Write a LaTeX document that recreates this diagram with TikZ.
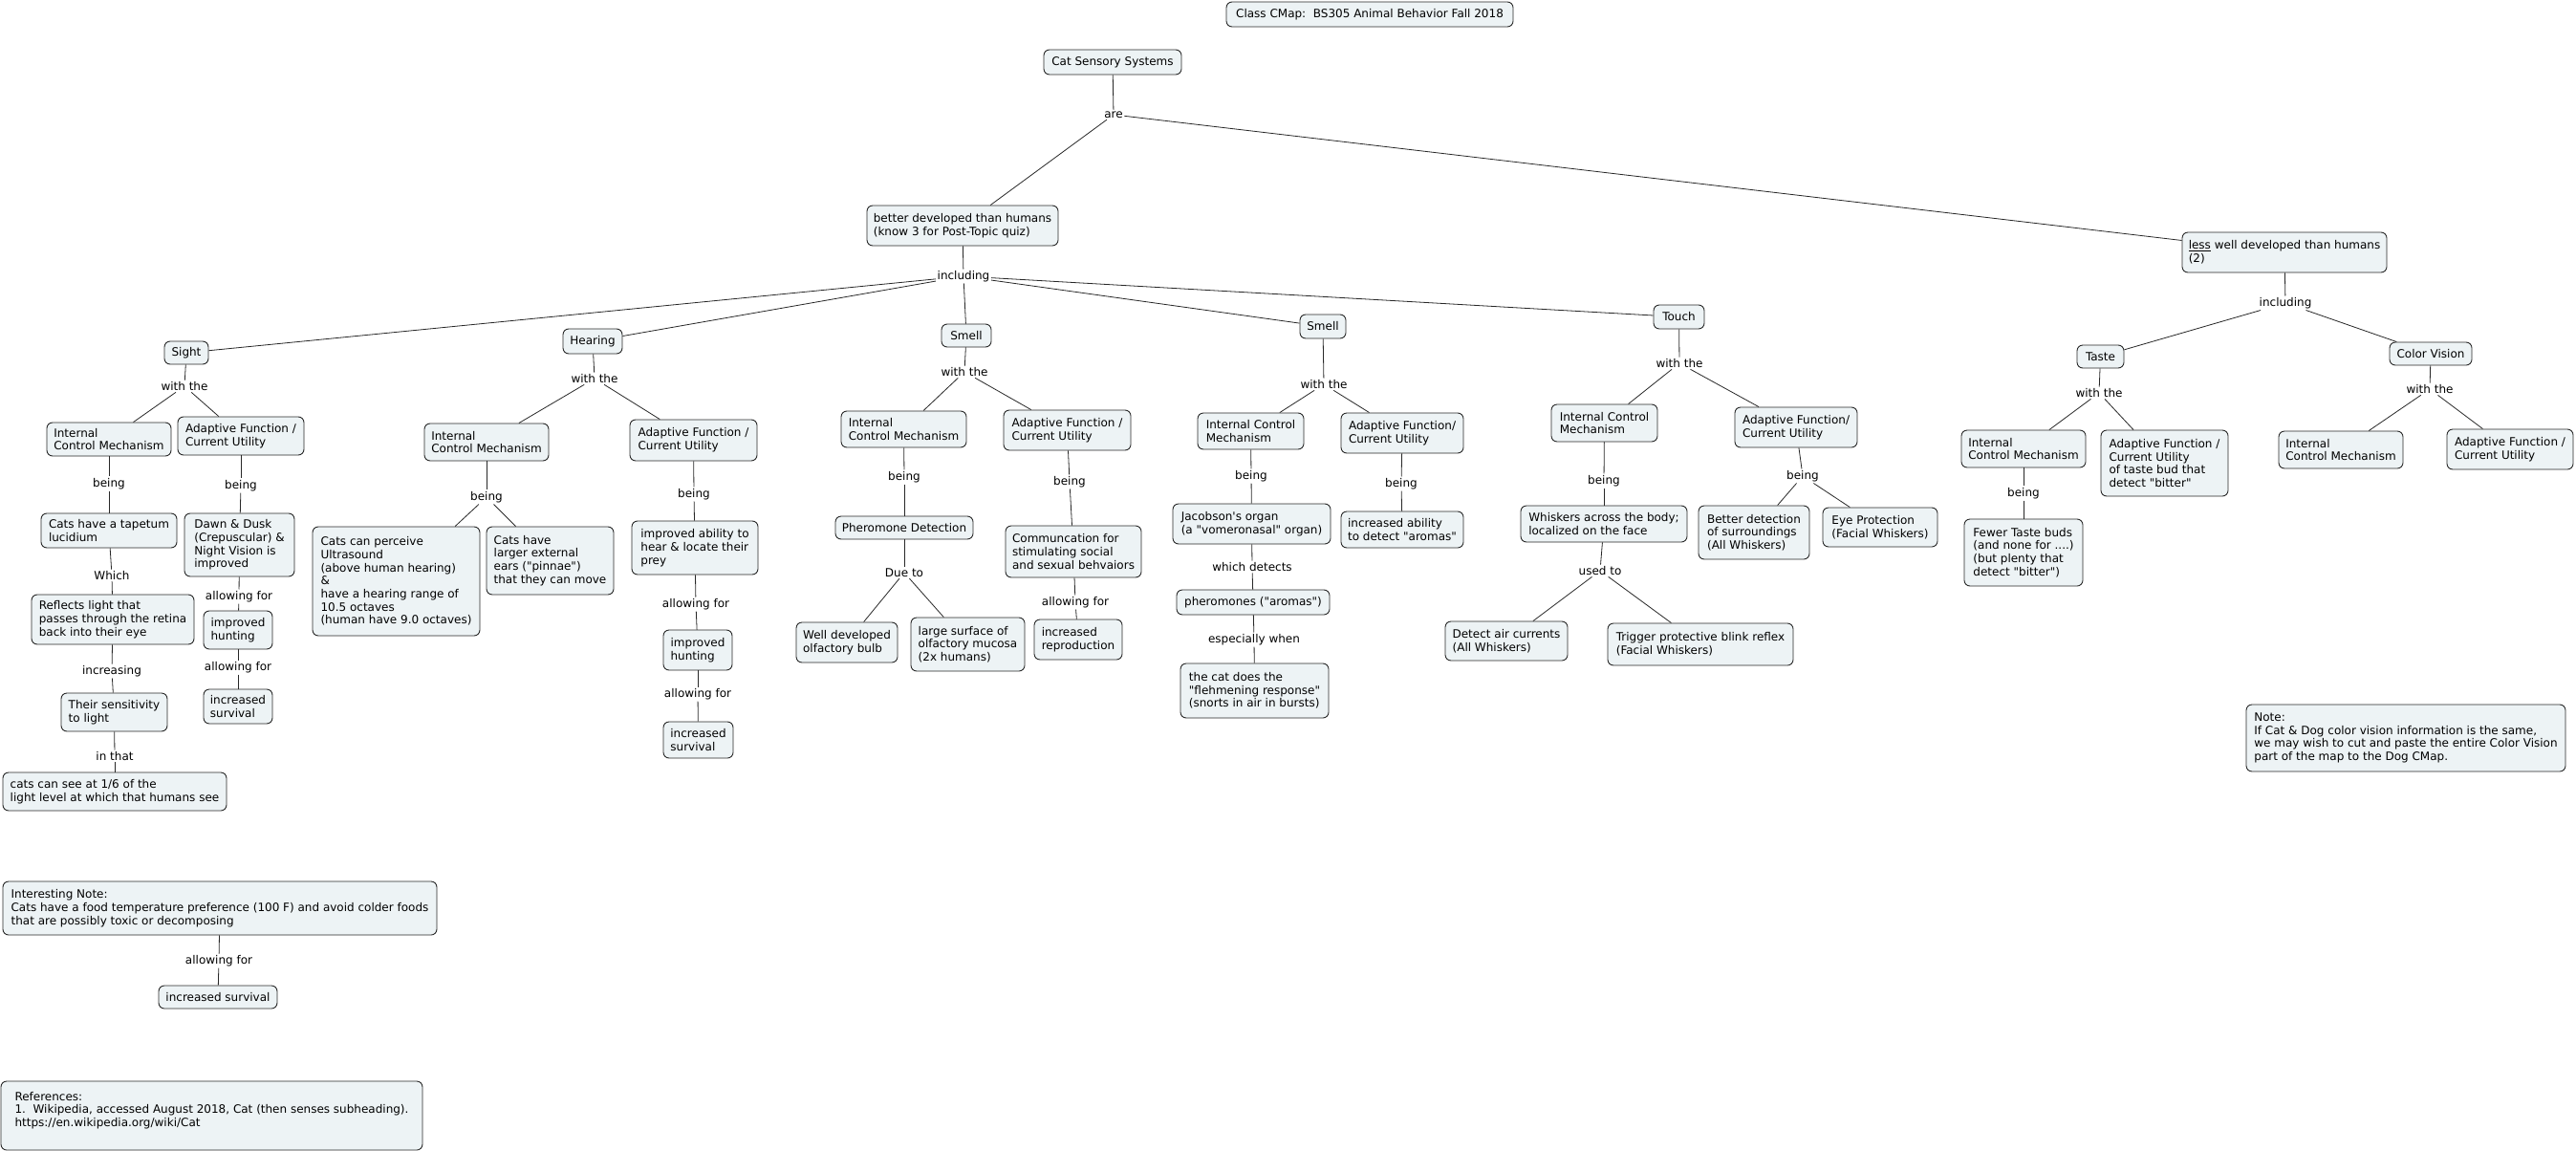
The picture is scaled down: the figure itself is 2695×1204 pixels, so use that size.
\documentclass[tikz,border=0pt]{standalone}
\usepackage{fontspec}
\newfontfamily\mainf{DejaVu Sans}
\definecolor{cfill}{RGB}{237,243,245}
\definecolor{cline}{RGB}{40,40,40}
\tikzset{
 concept/.style={draw=cline, line width=0.9pt, fill=cfill, rounded corners=6pt, align=left, inner xsep=5pt, inner ysep=3pt, font=\mainf\fontsize{12}{13.7}\selectfont},
 link/.style={inner sep=1.5pt, font=\mainf\fontsize{12}{13.7}\selectfont},
 conn/.style={draw=cline, line width=0.8pt}
}
\newcommand\cmapnode[6]{\node[concept, minimum width=#4pt, minimum height=#5pt] (#1) at (#2,#3) {#6};}
\newcommand\cmaplink[4]{\node[link] (#1) at (#2,#3) {#4};}
\begin{document}
\begin{tikzpicture}[x=1pt,y=-1pt]
\fill[white] (0,0) rectangle (2695,1204);
\useasboundingbox (0,0) rectangle (2695,1204);
% ---------- concepts ----------
\cmapnode{title}{1433}{15}{300}{26}{Class CMap:\ \ BS305 Animal Behavior Fall 2018}
\cmapnode{css}{1164}{65}{144}{26}{Cat Sensory Systems}
\cmapnode{better}{1007}{236}{200}{42}{better developed than humans\\(know 3 for Post-Topic quiz)}
\cmapnode{less}{2390}{264}{214}{42}{\underline{less} well developed than humans\\(2)}
% Sight
\cmapnode{sight}{195}{369}{46}{24}{Sight}
\cmapnode{sicm}{114}{459.5}{130}{35}{Internal\\Control Mechanism}
\cmapnode{saf}{252}{456}{132}{40}{Adaptive Function /\\Current Utility}
\cmapnode{tapetum}{114}{555}{142}{36}{Cats have a tapetum\\lucidium}
\cmapnode{dawn}{250.5}{570}{115}{66}{Dawn \& Dusk\\(Crepuscular) \&\\Night Vision is\\improved}
\cmapnode{reflects}{118}{648}{170}{52}{Reflects light that\\passes through the retina\\back into their eye}
\cmapnode{sihunt}{249}{659}{72}{40}{improved\\hunting}
\cmapnode{sisurv}{249}{739}{72}{36}{increased\\survival}
\cmapnode{sensit}{119.5}{745}{111}{40}{Their sensitivity\\to light}
\cmapnode{cansee}{120}{828}{234}{40}{cats can see at 1/6 of the\\light level at which that humans see}
% Hearing
\cmapnode{hearing}{620}{357}{62}{26}{Hearing}
\cmapnode{hicm}{509}{462.5}{130}{39}{Internal\\Control Mechanism}
\cmapnode{haf}{725.5}{460.5}{133}{43}{Adaptive Function /\\Current Utility}
\cmapnode{ultra}{414.5}{608}{175}{114}{Cats can perceive\\Ultrasound\\(above human hearing)\\\&\\have a hearing range of\\10.5 octaves\\(human have 9.0 octaves)}
\cmapnode{pinnae}{575.5}{586.5}{133}{71}{Cats have\\larger external\\ears ("pinnae")\\that they can move}
\cmapnode{hability}{727}{573}{132}{56}{improved ability to\\hear \& locate their\\prey}
\cmapnode{hhunt}{730}{680}{72}{42}{improved\\hunting}
\cmapnode{hsurv}{730.5}{774}{73}{38}{increased\\survival}
% Smell 1
\cmapnode{smellA}{1011}{351}{52}{24}{Smell}
\cmapnode{saicm}{945.5}{449}{131}{38}{Internal\\Control Mechanism}
\cmapnode{saaf}{1116.5}{450}{133}{42}{Adaptive Function /\\Current Utility}
\cmapnode{phero}{946}{552}{144}{24}{Pheromone Detection}
\cmapnode{olf}{886}{672}{106}{42}{Well developed\\olfactory bulb}
\cmapnode{mucosa}{1012.5}{674}{119}{56}{large surface of\\olfactory mucosa\\(2x humans)}
\cmapnode{commun}{1123}{577}{142}{54}{Communcation for\\stimulating social\\and sexual behvaiors}
\cmapnode{repro}{1128}{669}{92}{42}{increased\\reproduction}
% Smell 2
\cmapnode{smellB}{1384}{341.5}{48}{25}{Smell}
\cmapnode{sbicm}{1308.5}{451}{111}{38}{Internal Control\\Mechanism}
\cmapnode{sbaf}{1467}{453}{128}{42}{Adaptive Function/\\Current Utility}
\cmapnode{jacob}{1309.5}{548}{165}{42}{Jacobson's organ\\(a "vomeronasal" organ)}
\cmapnode{aromas}{1467}{554}{128}{38}{increased ability\\to detect "aromas"}
\cmapnode{pheromones}{1311}{630}{160}{26}{pheromones ("aromas")}
\cmapnode{flehm}{1312.5}{722.5}{155}{57}{the cat does the\\"flehmening response"\\(snorts in air in bursts)}
% Touch
\cmapnode{touch}{1756.5}{331.5}{53}{25}{Touch}
\cmapnode{ticm}{1678.5}{442.5}{111}{39}{Internal Control\\Mechanism}
\cmapnode{taf}{1879}{447}{128}{42}{Adaptive Function/\\Current Utility}
\cmapnode{whiskers}{1678}{548}{174}{38}{Whiskers across the body;\\localized on the face}
\cmapnode{betterdet}{1835}{557}{116}{56}{Better detection\\of surroundings\\(All Whiskers)}
\cmapnode{eye}{1967}{551.5}{120}{41}{Eye Protection\\(Facial Whiskers)}
\cmapnode{air}{1576}{670.5}{128}{41}{Detect air currents\\(All Whiskers)}
\cmapnode{blink}{1779}{674}{194}{44}{Trigger protective blink reflex\\(Facial Whiskers)}
% Taste / Color vision
\cmapnode{taste}{2197.5}{373}{49}{24}{Taste}
\cmapnode{cv}{2543}{370}{86}{24}{Color Vision}
\cmapnode{taicm}{2117}{469.5}{130}{39}{Internal\\Control Mechanism}
\cmapnode{taaf}{2264.5}{484.5}{133}{69}{Adaptive Function /\\Current Utility\\of taste bud that\\detect "bitter"}
\cmapnode{fewer}{2117}{578}{124}{70}{Fewer Taste buds\\(and none for ....)\\(but plenty that\\detect "bitter")}
\cmapnode{cvicm}{2449}{470.5}{130}{39}{Internal\\Control Mechanism}
\cmapnode{cvaf}{2626}{470}{132}{42}{Adaptive Function /\\Current Utility}
% Notes
\cmapnode{note}{2517}{772}{334}{70}{Note:\\If Cat \& Dog color vision information is the same,\\we may wish to cut and paste the entire Color Vision\\part of the map to the Dog CMap.}
\cmapnode{interest}{230}{950}{454}{56}{Interesting Note:\\Cats have a food temperature preference (100 F) and avoid colder foods\\that are possibly toxic or decomposing}
\cmapnode{insurv}{228}{1043}{124}{24}{increased survival}
\cmapnode{refs}{221.5}{1167}{441}{72}{References:\\1.\ \ Wikipedia, accessed August 2018, Cat (then senses subheading).\\https://en.wikipedia.org/wiki/Cat\\\mbox{}}
% ---------- linking phrases ----------
\cmaplink{lare}{1165}{120}{are}
\cmaplink{lincA}{1008}{289}{including}
\cmaplink{lincB}{2391}{317}{including}
\cmaplink{lsw}{193}{404}{with the}
\cmaplink{lsb1}{114}{506}{being}
\cmaplink{lsb2}{252}{508}{being}
\cmaplink{lwhich}{117}{602}{Which}
\cmaplink{lincr}{117}{702}{increasing}
\cmaplink{linthat}{120}{791}{in that}
\cmaplink{lsa1}{250}{624}{allowing for}
\cmaplink{lsa2}{249}{698}{allowing for}
\cmaplink{lhw}{622}{396}{with the}
\cmaplink{lhb1}{509}{520}{being}
\cmaplink{lhb2}{726}{517}{being}
\cmaplink{lha1}{728}{632}{allowing for}
\cmaplink{lha2}{730}{726}{allowing for}
\cmaplink{law}{1009}{389}{with the}
\cmaplink{lab1}{946}{499}{being}
\cmaplink{ldue}{946}{599}{Due to}
\cmaplink{lab2}{1119}{504}{being}
\cmaplink{laa}{1125}{630}{allowing for}
\cmaplink{lbw}{1385}{402}{with the}
\cmaplink{lbb1}{1309}{498}{being}
\cmaplink{lwd}{1310}{593}{which detects}
\cmaplink{lesp}{1312}{669}{especially when}
\cmaplink{lbb2}{1466}{506}{being}
\cmaplink{ltw}{1757}{380}{with the}
\cmaplink{ltb1}{1678}{503}{being}
\cmaplink{lused}{1674}{597}{used to}
\cmaplink{ltb2}{1886}{498}{being}
\cmaplink{ltaw}{2196}{411}{with the}
\cmaplink{ltab}{2117}{516}{being}
\cmaplink{lcvw}{2542}{407}{with the}
\cmaplink{lnote}{229}{1005}{allowing for}
% ---------- connections ----------
\draw[conn] (css) -- (lare);
\draw[conn] (lare) -- (better);
\draw[conn] (lare) -- (less);
\draw[conn] (better) -- (lincA);
\foreach \t in {sight,hearing,smellA,smellB,touch} \draw[conn] (lincA) -- (\t);
\draw[conn] (less) -- (lincB);
\draw[conn] (lincB) -- (taste);
\draw[conn] (lincB) -- (cv);
% sight
\draw[conn] (sight) -- (lsw);
\draw[conn] (lsw) -- (sicm);
\draw[conn] (lsw) -- (saf);
\draw[conn] (sicm) -- (lsb1);
\draw[conn] (lsb1) -- (tapetum);
\draw[conn] (tapetum) -- (lwhich);
\draw[conn] (lwhich) -- (reflects);
\draw[conn] (reflects) -- (lincr);
\draw[conn] (lincr) -- (sensit);
\draw[conn] (sensit) -- (linthat);
\draw[conn] (linthat) -- (cansee);
\draw[conn] (saf) -- (lsb2);
\draw[conn] (lsb2) -- (dawn);
\draw[conn] (dawn) -- (lsa1);
\draw[conn] (lsa1) -- (sihunt);
\draw[conn] (sihunt) -- (lsa2);
\draw[conn] (lsa2) -- (sisurv);
% hearing
\draw[conn] (hearing) -- (lhw);
\draw[conn] (lhw) -- (hicm);
\draw[conn] (lhw) -- (haf);
\draw[conn] (hicm) -- (lhb1);
\draw[conn] (lhb1) -- (ultra);
\draw[conn] (lhb1) -- (pinnae);
\draw[conn] (haf) -- (lhb2);
\draw[conn] (lhb2) -- (hability);
\draw[conn] (hability) -- (lha1);
\draw[conn] (lha1) -- (hhunt);
\draw[conn] (hhunt) -- (lha2);
\draw[conn] (lha2) -- (hsurv);
% smell A
\draw[conn] (smellA) -- (law);
\draw[conn] (law) -- (saicm);
\draw[conn] (law) -- (saaf);
\draw[conn] (saicm) -- (lab1);
\draw[conn] (lab1) -- (phero);
\draw[conn] (phero) -- (ldue);
\draw[conn] (ldue) -- (olf);
\draw[conn] (ldue) -- (mucosa);
\draw[conn] (saaf) -- (lab2);
\draw[conn] (lab2) -- (commun);
\draw[conn] (commun) -- (laa);
\draw[conn] (laa) -- (repro);
% smell B
\draw[conn] (smellB) -- (lbw);
\draw[conn] (lbw) -- (sbicm);
\draw[conn] (lbw) -- (sbaf);
\draw[conn] (sbicm) -- (lbb1);
\draw[conn] (lbb1) -- (jacob);
\draw[conn] (jacob) -- (lwd);
\draw[conn] (lwd) -- (pheromones);
\draw[conn] (pheromones) -- (lesp);
\draw[conn] (lesp) -- (flehm);
\draw[conn] (sbaf) -- (lbb2);
\draw[conn] (lbb2) -- (aromas);
% touch
\draw[conn] (touch) -- (ltw);
\draw[conn] (ltw) -- (ticm);
\draw[conn] (ltw) -- (taf);
\draw[conn] (ticm) -- (ltb1);
\draw[conn] (ltb1) -- (whiskers);
\draw[conn] (whiskers) -- (lused);
\draw[conn] (lused) -- (air);
\draw[conn] (lused) -- (blink);
\draw[conn] (taf) -- (ltb2);
\draw[conn] (ltb2) -- (betterdet);
\draw[conn] (ltb2) -- (eye);
% taste / color vision
\draw[conn] (taste) -- (ltaw);
\draw[conn] (ltaw) -- (taicm);
\draw[conn] (ltaw) -- (taaf);
\draw[conn] (taicm) -- (ltab);
\draw[conn] (ltab) -- (fewer);
\draw[conn] (cv) -- (lcvw);
\draw[conn] (lcvw) -- (cvicm);
\draw[conn] (lcvw) -- (cvaf);
% note
\draw[conn] (interest) -- (lnote);
\draw[conn] (lnote) -- (insurv);
\end{tikzpicture}
\end{document}
